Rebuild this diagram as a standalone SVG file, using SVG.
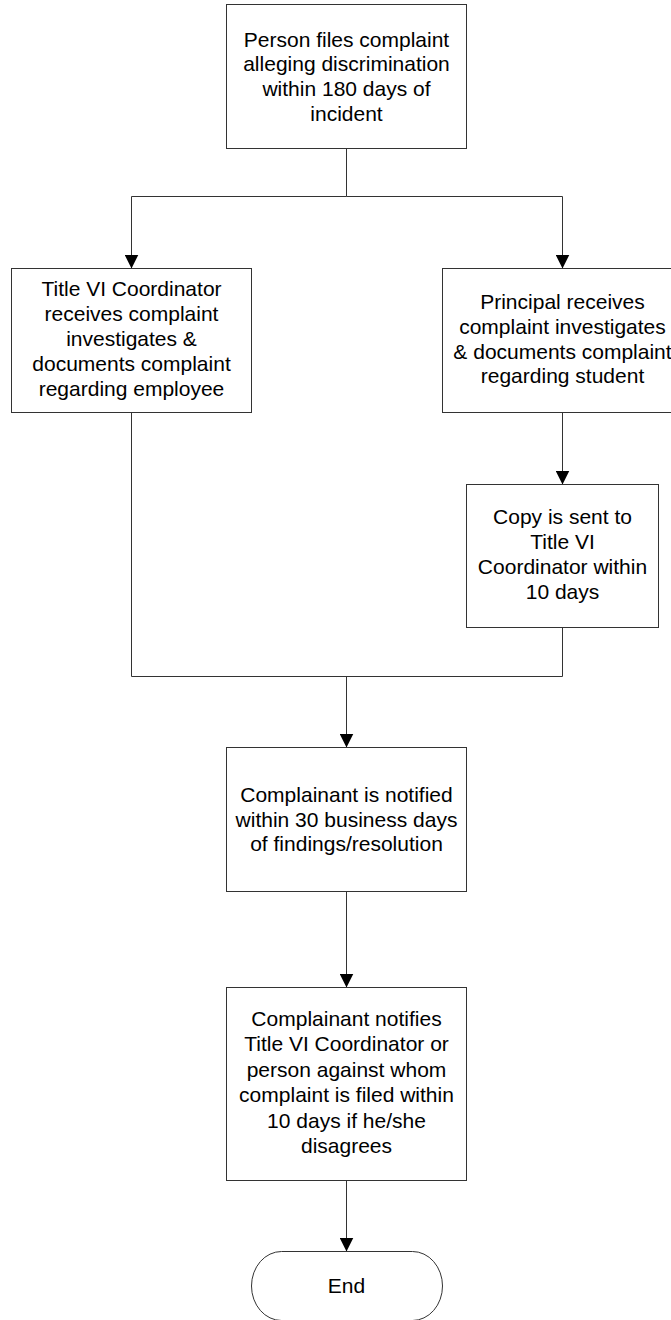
<svg xmlns="http://www.w3.org/2000/svg" width="671" height="1320" viewBox="0 0 671 1320">
<style>
  .box { fill: #ffffff; stroke: #333333; stroke-width: 1; }
  .lbl { font-family: "Liberation Sans", Arial, sans-serif; font-size: 21px; fill: #000000; text-anchor: middle; }
  .conn { fill: none; stroke: #333333; stroke-width: 1; }
</style>
<defs>
  <marker id="arr" markerWidth="14" markerHeight="14" refX="14" refY="7" orient="auto" markerUnits="userSpaceOnUse">
    <path d="M0,0 L14,7 L0,14 Z" fill="#000000"/>
  </marker>
</defs>
<rect x="0" y="0" width="671" height="1320" fill="#ffffff"/>
<g id="connectors">
  <path class="conn" d="M346.5,148.5 V196.5"/>
  <path class="conn" d="M346.5,196.5 H131.5 V268.5" marker-end="url(#arr)"/>
  <path class="conn" d="M346.5,196.5 H562.5 V268.5" marker-end="url(#arr)"/>
  <path class="conn" d="M562.5,412.5 V484.5" marker-end="url(#arr)"/>
  <path class="conn" d="M131.5,412.5 V676.5 H562.5 V627.5"/>
  <path class="conn" d="M346.5,676.5 V747.5" marker-end="url(#arr)"/>
  <path class="conn" d="M346.5,891.5 V987.5" marker-end="url(#arr)"/>
  <path class="conn" d="M346.5,1180.5 V1251.5" marker-end="url(#arr)"/>
</g>
<g id="node-file">
  <rect class="box" x="226.5" y="4.5" width="240" height="144"/>
  <text class="lbl" x="346.5" y="46.5">Person files complaint</text>
  <text class="lbl" x="346.5" y="71.3">alleging discrimination</text>
  <text class="lbl" x="346.5" y="96">within 180 days of</text>
  <text class="lbl" x="346.5" y="120.8">incident</text>
</g>
<g id="node-coordinator">
  <rect class="box" x="11.5" y="268.5" width="240" height="144"/>
  <text class="lbl" x="131.5" y="295.7">Title VI Coordinator</text>
  <text class="lbl" x="131.5" y="320.7">receives complaint</text>
  <text class="lbl" x="131.5" y="345.7">investigates &amp;</text>
  <text class="lbl" x="131.5" y="370.7">documents complaint</text>
  <text class="lbl" x="131.5" y="395.7">regarding employee</text>
</g>
<g id="node-principal">
  <rect class="box" x="442.5" y="268.5" width="240" height="144"/>
  <text class="lbl" x="562.5" y="309.3">Principal receives</text>
  <text class="lbl" x="562.5" y="334">complaint investigates</text>
  <text class="lbl" x="562.5" y="358.7">&amp; documents complaint</text>
  <text class="lbl" x="562.5" y="383.4">regarding student</text>
</g>
<g id="node-copy">
  <rect class="box" x="466.5" y="484.5" width="192" height="143"/>
  <text class="lbl" x="562.5" y="524">Copy is sent to</text>
  <text class="lbl" x="562.5" y="549">Title VI</text>
  <text class="lbl" x="562.5" y="574">Coordinator within</text>
  <text class="lbl" x="562.5" y="599.2">10 days</text>
</g>
<g id="node-notified">
  <rect class="box" x="226.5" y="747.5" width="240" height="144"/>
  <text class="lbl" x="346.5" y="801.7">Complainant is notified</text>
  <text class="lbl" x="346.5" y="826.5">within 30 business days</text>
  <text class="lbl" x="346.5" y="851.2">of findings/resolution</text>
</g>
<g id="node-notifies">
  <rect class="box" x="226.5" y="987.5" width="240" height="193"/>
  <text class="lbl" x="346.5" y="1025.7">Complainant notifies</text>
  <text class="lbl" x="346.5" y="1051.2">Title VI Coordinator or</text>
  <text class="lbl" x="346.5" y="1076.8">person against whom</text>
  <text class="lbl" x="346.5" y="1102.3">complaint is filed within</text>
  <text class="lbl" x="346.5" y="1127.9">10 days if he/she</text>
  <text class="lbl" x="346.5" y="1153.3">disagrees</text>
</g>
<g id="node-end">
  <path class="box" d="M281.5,1251.5 H412.5 A30,34.5 0 0 1 412.5,1320.5 H281.5 A30,34.5 0 0 1 281.5,1251.5 Z"/>
  <text class="lbl" x="346.5" y="1293.3">End</text>
</g>
</svg>
